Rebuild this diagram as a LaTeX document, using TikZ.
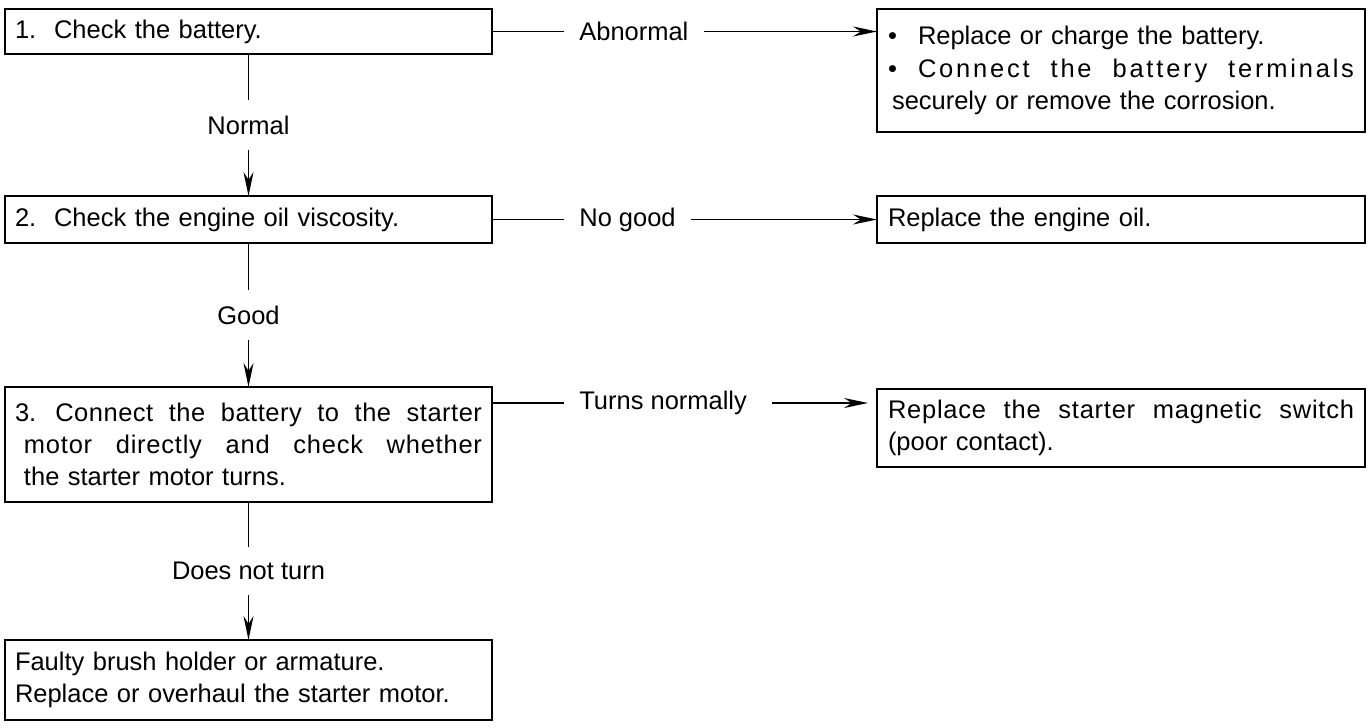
\documentclass[tikz,border=0pt]{standalone}
\usepackage{fontspec}
\setmainfont{Liberation Sans}
\usetikzlibrary{arrows.meta, positioning, calc}

\newcommand{\boxfont}{\fontsize{14.5}{18.3}\selectfont}
% one line stretched to a given width
\newcommand{\fullline}[2]{\makebox[#1][s]{\spaceskip=0pt\xspaceskip=0pt #2}}

\begin{document}
\begin{tikzpicture}[
    chk/.style={draw, line width=0.8pt, anchor=north west, inner xsep=0.2cm, inner ysep=0cm, outer sep=0pt, text width=9.34cm, align=left, font=\boxfont},
    fix/.style={chk, inner xsep=0.22cm, text width=9.32cm},
    lbl/.style={inner xsep=0.3cm, inner ysep=0.3cm, font=\boxfont},
    ln/.style={line width=0.8pt},
    arr/.style={-{Stealth[length=0.48cm, width=0.2cm]}, line width=0.8pt}
]
\useasboundingbox (0,0) rectangle (27.4,-14.54);

% checks on the left
\node[chk, minimum height=0.9cm] (b1) at (0.1,-0.18) {1.\hspace{0.7em}Check the battery.};
\node[chk, minimum height=0.94cm, below=2.84cm of b1] (b2) {2.\hspace{0.7em}Check the engine oil viscosity.};
\node[chk, minimum height=2.3cm, below=2.88cm of b2] (b3) {\fullline{9.34cm}{3.\hspace{0.75em}\addfontfeature{LetterSpace=2}Connect the battery to the starter}\\
  \hspace*{0.18cm}\fullline{9.16cm}{\addfontfeature{LetterSpace=3}motor directly and check whether}\\
  \hspace*{0.18cm}the starter motor turns.};
\node[chk, minimum height=1.6cm, below=2.76cm of b3] (b4) {Faulty brush holder or armature.\\Replace or overhaul the starter motor.};

% remedies on the right
\node[fix, minimum height=2.46cm] (r1) at (17.54,-0.18) {\makebox[0.6cm][l]{\textbullet}Replace or charge the battery.\\
  \makebox[0.6cm][l]{\textbullet}\fullline{8.72cm}{\addfontfeature{LetterSpace=11}Connect the battery terminals}\\
  \hspace*{0.08cm}securely or remove the corrosion.};
\node[fix, minimum height=0.94cm] (r2) at (b2.north -| r1.west) {Replace the engine oil.};
\node[fix, minimum height=1.56cm, yshift=-0.04cm] (r3) at (b3.north -| r1.west) {\fullline{9.32cm}{\addfontfeature{LetterSpace=3}Replace the starter magnetic switch}\\(poor contact).};

% results
\node[lbl, right=1.44cm of b1] (abn) {Abnormal};
\node[lbl, right=1.44cm of b2] (ngd) {No good};
\node[lbl, right=1.44cm of b3.north east, yshift=-0.32cm] (tnn) {Turns normally};
\path (b1.south) -- (b2.north) node[lbl, midway] (nrm) {Normal};
\path (b2.south) -- (b3.north) node[lbl, midway] (gd) {Good};
\path (b3.south) -- (b4.north) node[lbl, midway] (dnt) {Does not turn};

\draw[ln] (b1) -- (abn);
\draw[arr] (abn.east) -- (abn.east -| r1.west);
\draw[ln] (b2) -- (ngd);
\draw[arr] (ngd.east) -- (ngd.east -| r2.west);
\draw[ln] (tnn.west -| b3.east) -- (tnn.west);
\draw[arr] ([xshift=0.2cm]tnn.east) -- ($(tnn.east -| r3.west)+(-0.18,0)$);

\draw[ln] (b1) -- (nrm);
\draw[arr] (nrm) -- (b2);
\draw[ln] (b2) -- (gd);
\draw[arr] (gd) -- (b3);
\draw[ln] (b3) -- (dnt);
\draw[arr] (dnt) -- (b4);
\end{tikzpicture}
\end{document}
